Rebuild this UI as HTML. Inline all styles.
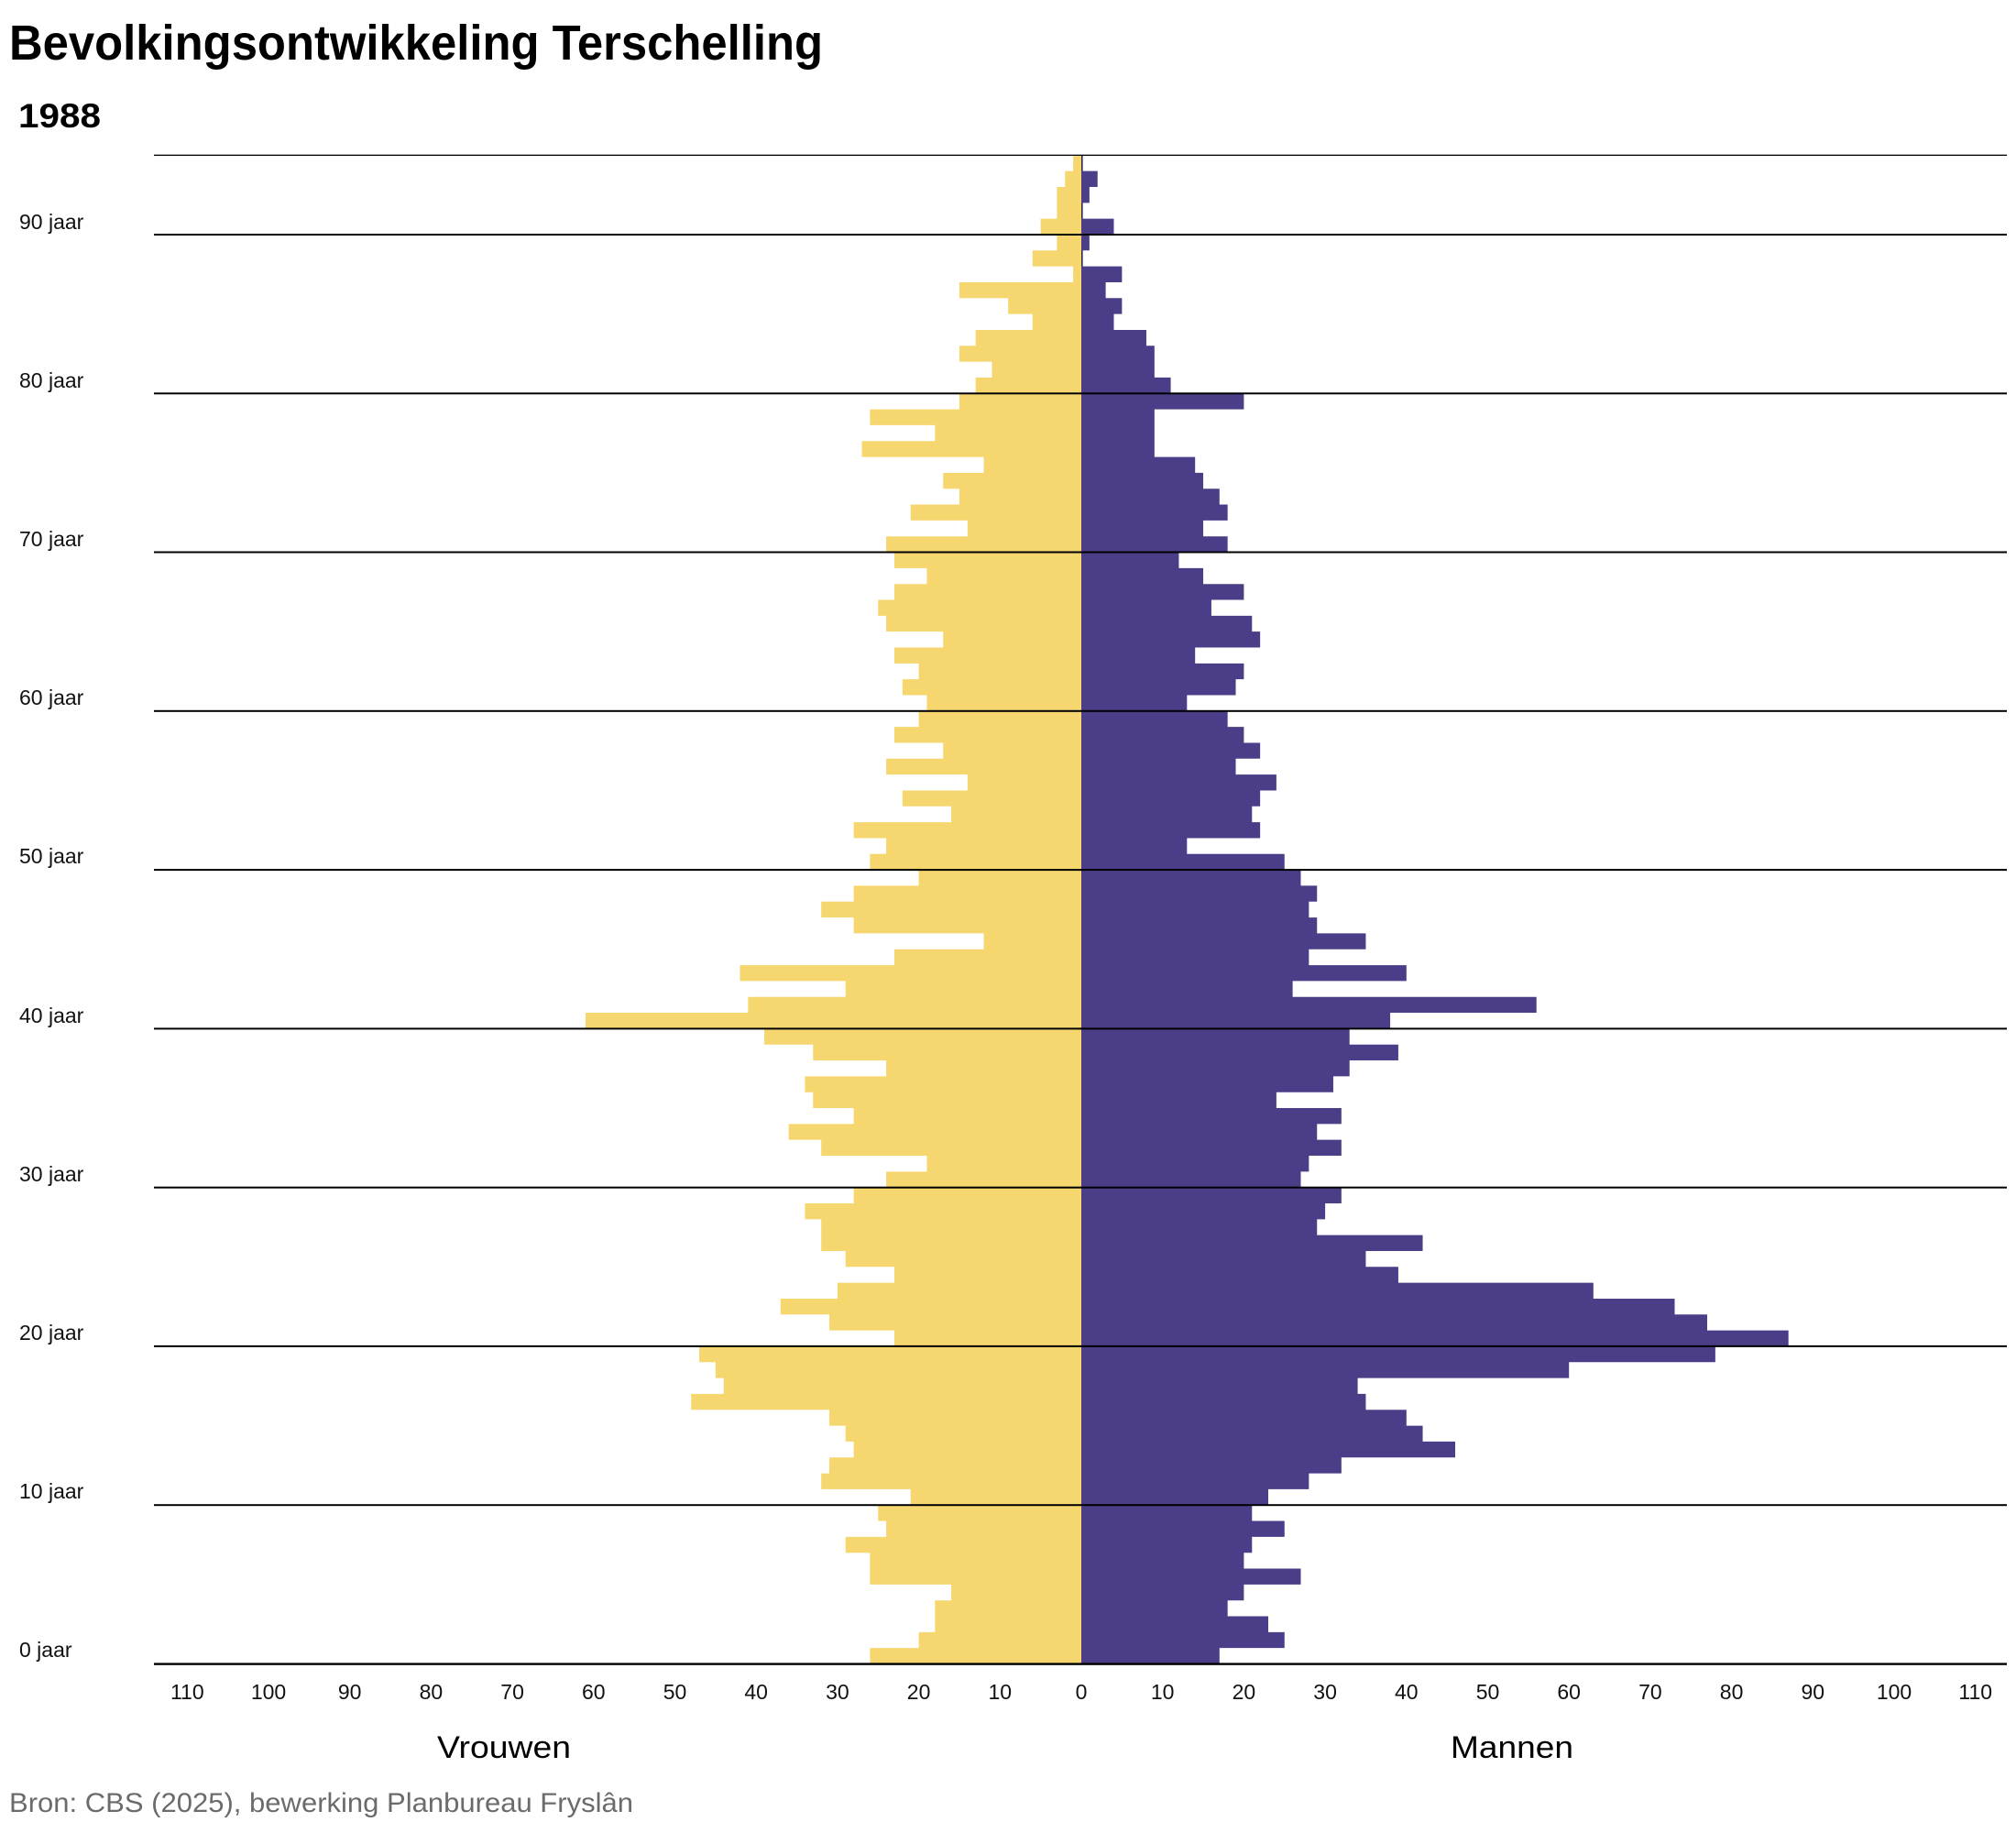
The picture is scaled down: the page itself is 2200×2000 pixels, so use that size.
<!DOCTYPE html>
<html>
<head>
<meta charset="utf-8">
<style>
html,body{margin:0;padding:0;background:#fff;}
svg{display:block;}
text{font-family:"Liberation Sans",Arial,sans-serif;}
</style>
</head>
<body>
<svg width="2200" height="2000" viewBox="0 0 2200 2000" xmlns="http://www.w3.org/2000/svg">
<rect x="0" y="0" width="2200" height="2000" fill="#ffffff"/>

<!-- Title -->
<text x="10" y="65" font-size="54" font-weight="bold" fill="#000" textLength="888" lengthAdjust="spacingAndGlyphs">Bevolkingsontwikkeling Terschelling</text>
<text x="20" y="139" font-size="37" font-weight="bold" fill="#000" textLength="90" lengthAdjust="spacingAndGlyphs">1988</text>

<!-- zero axis line -->
<rect x="1180" y="169" width="1.6" height="1646" fill="#2d2850"/>

<!-- Bars -->
<g transform="translate(1180,1815.5) scale(8.87,-17.328)">
<path fill="#F6D66F" d="M0 0 H-26 V1 H-20 V2 H-18 V3 H-18 V4 H-16 V5 H-26 V6 H-26 V7 H-29 V8 H-24 V9 H-25 V10 H-21 V11 H-32 V12 H-31 V13 H-28 V14 H-29 V15 H-31 V16 H-48 V17 H-44 V18 H-45 V19 H-47 V20 H-23 V21 H-31 V22 H-37 V23 H-30 V24 H-23 V25 H-29 V26 H-32 V27 H-32 V28 H-34 V29 H-28 V30 H-24 V31 H-19 V32 H-32 V33 H-36 V34 H-28 V35 H-33 V36 H-34 V37 H-24 V38 H-33 V39 H-39 V40 H-61 V41 H-41 V42 H-29 V43 H-42 V44 H-23 V45 H-12 V46 H-28 V47 H-32 V48 H-28 V49 H-20 V50 H-26 V51 H-24 V52 H-28 V53 H-16 V54 H-22 V55 H-14 V56 H-24 V57 H-17 V58 H-23 V59 H-20 V60 H-19 V61 H-22 V62 H-20 V63 H-23 V64 H-17 V65 H-24 V66 H-25 V67 H-23 V68 H-19 V69 H-23 V70 H-24 V71 H-14 V72 H-21 V73 H-15 V74 H-17 V75 H-12 V76 H-27 V77 H-18 V78 H-26 V79 H-15 V80 H-13 V81 H-11 V82 H-15 V83 H-13 V84 H-6 V85 H-9 V86 H-15 V87 H-1 V88 H-6 V89 H-3 V90 H-5 V91 H-3 V92 H-3 V93 H-2 V94 H-1 V95 H0 Z"/>
<path fill="#4B3D88" d="M0 0 H17 V1 H25 V2 H23 V3 H18 V4 H20 V5 H27 V6 H20 V7 H21 V8 H25 V9 H21 V10 H23 V11 H28 V12 H32 V13 H46 V14 H42 V15 H40 V16 H35 V17 H34 V18 H60 V19 H78 V20 H87 V21 H77 V22 H73 V23 H63 V24 H39 V25 H35 V26 H42 V27 H29 V28 H30 V29 H32 V30 H27 V31 H28 V32 H32 V33 H29 V34 H32 V35 H24 V36 H31 V37 H33 V38 H39 V39 H33 V40 H38 V41 H56 V42 H26 V43 H40 V44 H28 V45 H35 V46 H29 V47 H28 V48 H29 V49 H27 V50 H25 V51 H13 V52 H22 V53 H21 V54 H22 V55 H24 V56 H19 V57 H22 V58 H20 V59 H18 V60 H13 V61 H19 V62 H20 V63 H14 V64 H22 V65 H21 V66 H16 V67 H20 V68 H15 V69 H12 V70 H18 V71 H15 V72 H18 V73 H17 V74 H15 V75 H14 V76 H9 V77 H9 V78 H9 V79 H20 V80 H11 V81 H9 V82 H9 V83 H8 V84 H4 V85 H5 V86 H3 V87 H5 V88 H0 V89 H1 V90 H4 V91 H0 V92 H1 V93 H2 V94 H0 V95 H0 Z"/>
</g>

<!-- Grid lines -->
<g fill="#000">
<rect x="168" y="168.7" width="2022" height="1.3"/>
<rect x="168" y="255" width="2022" height="2"/>
<rect x="168" y="428.3" width="2022" height="2"/>
<rect x="168" y="601.5" width="2022" height="2"/>
<rect x="168" y="774.8" width="2022" height="2"/>
<rect x="168" y="948.1" width="2022" height="2"/>
<rect x="168" y="1121.4" width="2022" height="2"/>
<rect x="168" y="1294.7" width="2022" height="2"/>
<rect x="168" y="1467.9" width="2022" height="2"/>
<rect x="168" y="1641.2" width="2022" height="2"/>
<rect x="168" y="1814.4" width="2022" height="2.4"/>
</g>

<!-- Y labels -->
<g font-size="23" fill="#111">
<text x="21" y="250">90 jaar</text>
<text x="21" y="423">80 jaar</text>
<text x="21" y="596">70 jaar</text>
<text x="21" y="769">60 jaar</text>
<text x="21" y="942">50 jaar</text>
<text x="21" y="1116">40 jaar</text>
<text x="21" y="1289">30 jaar</text>
<text x="21" y="1462">20 jaar</text>
<text x="21" y="1635">10 jaar</text>
<text x="21" y="1808">0 jaar</text>
</g>

<!-- X tick labels -->
<g font-size="23" fill="#111" text-anchor="middle">
<text x="204.3" y="1854">110</text>
<text x="293" y="1854">100</text>
<text x="381.7" y="1854">90</text>
<text x="470.4" y="1854">80</text>
<text x="559.1" y="1854">70</text>
<text x="647.8" y="1854">60</text>
<text x="736.5" y="1854">50</text>
<text x="825.2" y="1854">40</text>
<text x="913.9" y="1854">30</text>
<text x="1002.6" y="1854">20</text>
<text x="1091.3" y="1854">10</text>
<text x="1180" y="1854">0</text>
<text x="1268.7" y="1854">10</text>
<text x="1357.4" y="1854">20</text>
<text x="1446.1" y="1854">30</text>
<text x="1534.8" y="1854">40</text>
<text x="1623.5" y="1854">50</text>
<text x="1712.2" y="1854">60</text>
<text x="1800.9" y="1854">70</text>
<text x="1889.6" y="1854">80</text>
<text x="1978.3" y="1854">90</text>
<text x="2067" y="1854">100</text>
<text x="2155.7" y="1854">110</text>
</g>

<!-- Sex labels -->
<text x="477" y="1918" font-size="34" fill="#000" textLength="146" lengthAdjust="spacingAndGlyphs">Vrouwen</text>
<text x="1583" y="1918" font-size="34" fill="#000" textLength="134" lengthAdjust="spacingAndGlyphs">Mannen</text>

<!-- Source -->
<text x="10" y="1977" font-size="30" fill="#6b6b6b" textLength="681" lengthAdjust="spacingAndGlyphs">Bron: CBS (2025), bewerking Planbureau Fryslân</text>
</svg>
</body>
</html>
